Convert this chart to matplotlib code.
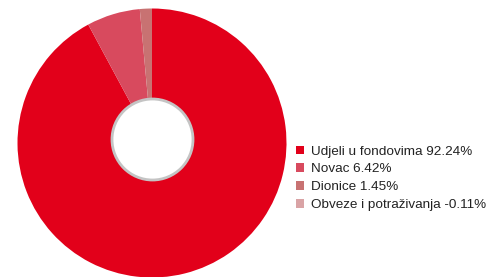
import matplotlib
matplotlib.use("Agg")
import matplotlib.pyplot as plt
from matplotlib.patches import Circle, Rectangle

categories = ["Udjeli u fondovima", "Novac", "Dionice", "Obveze i potraživanja"]
values = [92.24, 6.42, 1.45, -0.11]
colors = ["#e2001a", "#d84a5e", "#c87272", "#d9a3a5"]

W, H = 488, 277
fig = plt.figure(figsize=(W / 100, H / 100), dpi=100)
ax = fig.add_axes([0, 0, 1, 1])

pos_vals = [v for v in values if v > 0]
pos_cols = [c for v, c in zip(values, colors) if v > 0]
ax.pie(pos_vals, colors=pos_cols, startangle=90, counterclock=False,
       center=(152, H - 143), radius=134.5, frame=True,
       wedgeprops=dict(linewidth=0))
ax.set_xlim(0, W)
ax.set_ylim(0, H)
ax.set_aspect("equal")
ax.axis("off")

ax.add_patch(Circle((152.5, H - 139.5), 40.5, facecolor="white",
                    edgecolor="#c4c4c4", linewidth=2, zorder=5))

handles = [Rectangle((0, 0), 1, 1, facecolor=c, edgecolor="none") for c in colors]
labels = [f"{n} {v:.2f}%" for n, v in zip(categories, values)]
leg = ax.legend(handles, labels, loc="upper left",
                bbox_to_anchor=(296 / W, 1 - 145.5 / H),
                frameon=False, labelspacing=0.42,
                handlelength=0.62, handleheight=0.62, handletextpad=0.52,
                borderpad=0, borderaxespad=0,
                prop={"family": "Liberation Sans", "size": 9.7})
for t in leg.get_texts():
    t.set_color("#222222")

fig.savefig("out.png", dpi=100)
